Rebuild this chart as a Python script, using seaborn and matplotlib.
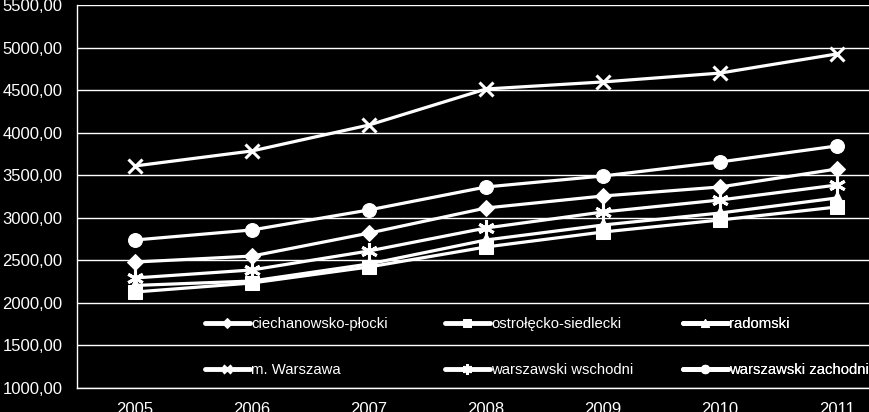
import matplotlib
matplotlib.use("Agg")
import matplotlib.pyplot as plt
import seaborn as sns
import pandas as pd
from matplotlib.ticker import FuncFormatter, FixedLocator

years = [2005, 2006, 2007, 2008, 2009, 2010, 2011]
ciechanowsko_plocki = [2480, 2550, 2820, 3115, 3256, 3362, 3573]
ostrolecko_siedlecki = [2128, 2234, 2422, 2657, 2833, 2974, 3127]
radomski = [2205, 2257, 2457, 2739, 2915, 3056, 3233]
m_warszawa = [3609, 3785, 4090, 4513, 4596, 4700, 4925]
warszawski_wschodni = [2293, 2387, 2610, 2880, 3068, 3209, 3385]
warszawski_zachodni = [2739, 2857, 3092, 3362, 3491, 3656, 3844]
series_names = ["ciechanowsko-płocki", "ostrołęcko-siedlecki", "radomski",
                "m. Warszawa", "warszawski wschodni", "warszawski zachodni"]
series_values = [ciechanowsko_plocki, ostrolecko_siedlecki, radomski,
                 m_warszawa, warszawski_wschodni, warszawski_zachodni]

sns.set_theme(style="dark")
plt.rcParams['font.family'] = ['Liberation Sans', 'DejaVu Sans']

styles = {
    "ciechanowsko-płocki": dict(marker="D", markersize=8.5),
    "ostrołęcko-siedlecki": dict(marker="s", markersize=9.5),
    "radomski": dict(marker="^", markersize=9.5),
    "m. Warszawa": dict(marker="x", markersize=10, markeredgewidth=2.2),
    "warszawski wschodni": dict(marker=(6, 2, 0), markersize=12, markeredgewidth=2.2),
    "warszawski zachodni": dict(marker="o", markersize=10),
}

fig = plt.figure(figsize=(8.69, 4.12), dpi=100, facecolor="black")
ax = fig.add_axes([76.5 / 869, 1 - 388 / 412, 819 / 869, 383 / 412])
ax.set_facecolor("black")

for name, vals in zip(series_names, series_values):
    df = pd.DataFrame({"year": years, "value": vals})
    st = styles[name]
    sns.lineplot(data=df, x="year", y="value", ax=ax, color="white", linewidth=2.3,
                 markeredgecolor="white", markerfacecolor="white", label=name, **st)

lines = ax.get_lines()
handles = {name: ln for name, ln in zip(series_names, lines)}
if ax.get_legend():
    ax.get_legend().remove()

ax.set_xlim(2004.5, 2011.5)
ax.set_ylim(1000, 5500)
ax.set_yticks([1000 + 500 * i for i in range(10)])
ax.yaxis.set_major_formatter(FuncFormatter(lambda v, p: f"{v:.2f}".replace(".", ",")))
ax.xaxis.set_major_locator(FixedLocator([y - 0.5 for y in years] + [2011.5]))
ax.xaxis.set_minor_locator(FixedLocator(years))
ax.xaxis.set_major_formatter(FuncFormatter(lambda v, p: ""))
ax.xaxis.set_minor_formatter(FuncFormatter(lambda v, p: str(int(round(v)))))
ax.tick_params(axis="x", which="major", length=6, width=1, color="white", direction="out")
ax.tick_params(axis="x", which="minor", length=0, labelsize=12, labelcolor="white", pad=10)
ax.tick_params(axis="y", length=7, width=1, color="white", labelsize=12,
               labelcolor="white", pad=3)
ax.grid(axis="y", color="white", linewidth=1)
ax.grid(axis="x", visible=False)
ax.set_xlabel("")
ax.set_ylabel("")
for s in ["top", "right"]:
    ax.spines[s].set_visible(False)
for s in ["left", "bottom"]:
    ax.spines[s].set_visible(True)
    ax.spines[s].set_color("white")
    ax.spines[s].set_linewidth(1)

cols = [["ciechanowsko-płocki", "m. Warszawa"],
        ["ostrołęcko-siedlecki", "warszawski wschodni"],
        ["radomski", "warszawski zachodni"]]
xs = [205, 445, 683]
for names, x in zip(cols, xs):
    leg = ax.legend([handles[n] for n in names], names, loc="upper left",
                    bbox_to_anchor=(x / 869, 1 - 317 / 412), bbox_transform=fig.transFigure,
                    frameon=False, fontsize=10.7, labelcolor="white", handlelength=3.0,
                    handletextpad=0.1, labelspacing=2.15, borderpad=0, borderaxespad=0,
                    markerscale=0.6)
    for lh in leg.get_lines():
        lh.set_linewidth(3.5)
    ax.add_artist(leg)

fig.savefig("out.png", dpi=100, facecolor="black")
